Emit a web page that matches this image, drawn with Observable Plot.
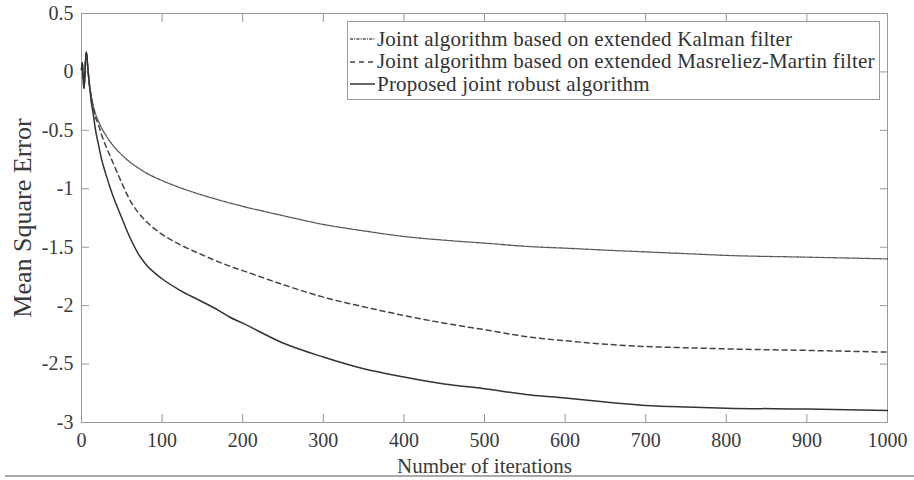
<!DOCTYPE html>
<html>
<head>
<meta charset="utf-8">
<script src="https://cdn.jsdelivr.net/npm/d3@7"></script>
<script src="https://cdn.jsdelivr.net/npm/@observablehq/plot@0.6"></script>
<style>
  html, body { margin: 0; padding: 0; background: #fff; }
  #wrap { position: relative; width: 914px; height: 480px; font-family: "Liberation Serif", "DejaVu Serif", serif; }
  #wrap svg text { font-family: "Liberation Serif", "DejaVu Serif", serif; }
  #legend { position: absolute; left: 347px; top: 21px; width: 533px; height: 79px; border: 1px solid #999; background: #fff; box-sizing: border-box; color: #333; font-size: 21px; letter-spacing: 0.2px; }
  .row { position: absolute; left: 2px; height: 22px; display: flex; align-items: center; white-space: nowrap; }
  .row svg { margin-right: 2px; }
  #bottomline { position: absolute; left: 5px; top: 475px; width: 909px; height: 2px; background: #aaa; }
</style>
</head>
<body>
<div id="wrap"></div>
<script>
// Data
const iterations = [0,1,2,3,4,5,6,8,10,12,15,17,21,25,30,38,50,58,70,79,100,120,148,170,183,200,250,300,350,400,450,500,557,600,650,700,750,800,900,1000];
const kalman   = [0.02,0.08,-0.04,-0.14,-0.06,0.10,0.17,0.02,-0.12,-0.20,-0.30,-0.35,-0.42,-0.48,-0.54,-0.62,-0.71,-0.76,-0.82,-0.86,-0.93,-0.985,-1.05,-1.095,-1.12,-1.15,-1.23,-1.305,-1.36,-1.408,-1.44,-1.465,-1.495,-1.508,-1.525,-1.54,-1.555,-1.57,-1.585,-1.60];
const masreliez = [0.02,0.08,-0.04,-0.14,-0.06,0.10,0.17,0.02,-0.12,-0.21,-0.32,-0.38,-0.45,-0.54,-0.63,-0.76,-0.95,-1.07,-1.20,-1.27,-1.39,-1.47,-1.56,-1.625,-1.66,-1.70,-1.82,-1.927,-2.01,-2.084,-2.15,-2.206,-2.27,-2.30,-2.33,-2.35,-2.36,-2.37,-2.383,-2.398];
const proposed = [0.02,0.08,-0.04,-0.14,-0.06,0.10,0.17,0.02,-0.12,-0.25,-0.38,-0.48,-0.62,-0.75,-0.87,-1.04,-1.25,-1.385,-1.55,-1.64,-1.77,-1.86,-1.96,-2.04,-2.095,-2.15,-2.32,-2.44,-2.54,-2.61,-2.67,-2.711,-2.765,-2.79,-2.825,-2.854,-2.868,-2.877,-2.885,-2.897];
const seriesNames = [
  "Joint algorithm based on extended Kalman filter",
  "Joint algorithm based on extended Masreliez-Martin filter",
  "Proposed joint robust algorithm"
];
const xTicks = [0,100,200,300,400,500,600,700,800,900,1000];
const yTicks = [0.5,0,-0.5,-1,-1.5,-2,-2.5,-3];
const yTickLabels = ["0.5","0","-0.5","-1","-1.5","-2","-2.5","-3"];

const styles = [
  {stroke: "#555", strokeWidth: 1.3, dash: "3,1.2,1,1.2"},
  {stroke: "#444", strokeWidth: 1.5, dash: "5,4"},
  {stroke: "#333", strokeWidth: 1.5, dash: null}
];
const allSeries = [kalman, masreliez, proposed];
const rows = [];
allSeries.forEach((vals, s) => iterations.forEach((x, i) => rows.push({x, y: vals[i], s})));

const font = "Liberation Serif";
const lineMarks = allSeries.map((_, s) => Plot.line(rows.filter(d => d.s === s), {
  x: "x", y: "y", curve: "monotone-x",
  stroke: styles[s].stroke, strokeWidth: styles[s].strokeWidth,
  strokeDasharray: styles[s].dash
}));

const chart = Plot.plot({
  width: 914, height: 480,
  marginLeft: 81, marginRight: 27, marginTop: 13, marginBottom: 58,
  style: {fontFamily: font, fontSize: "20px", color: "#333", background: "transparent"},
  x: {domain: [0, 1000]},
  y: {domain: [-3, 0.5]},
  marks: [
    Plot.frame({stroke: "#999"}),
    Plot.axisX(xTicks, {anchor: "bottom", tickSize: -8, text: null, label: null, stroke: "#999"}),
    Plot.axisX(xTicks, {anchor: "top", tickSize: -8, text: null, label: null, stroke: "#999"}),
    Plot.axisY(yTicks, {anchor: "left", tickSize: -8, text: null, label: null, stroke: "#999"}),
    Plot.axisY(yTicks, {anchor: "right", tickSize: -8, text: null, label: null, stroke: "#999"}),
    Plot.axisX(xTicks, {anchor: "bottom", tickSize: 0, tickPadding: 10, fontSize: 20, fill: "#3a3a3a",
      fontFamily: font, tickFormat: (d) => String(d), label: null}),
    Plot.axisX(xTicks, {anchor: "bottom", tickSize: 0, text: null, fontSize: 21, fill: "#3a3a3a",
      fontFamily: font,
      label: "Number of iterations", labelAnchor: "center", labelArrow: "none", labelOffset: 50}),
    Plot.axisY(yTicks, {anchor: "left", tickSize: 0, tickPadding: 8, fontSize: 20, fill: "#3a3a3a",
      fontFamily: font, tickFormat: (d) => yTickLabels[yTicks.indexOf(d)], label: null}),
    Plot.axisY(yTicks, {anchor: "left", tickSize: 0, text: null, fontSize: 26, fill: "#3a3a3a",
      fontFamily: font,
      label: "Mean Square Error", labelAnchor: "center", labelArrow: "none", labelOffset: 69}),
    ...lineMarks
  ]
});

const wrap = document.getElementById("wrap");
wrap.appendChild(chart);

const legend = document.createElement("div");
legend.id = "legend";
seriesNames.forEach((name, s) => {
  const row = document.createElement("div");
  row.className = "row";
  row.style.top = (6 + s * 22.5) + "px";
  const dash = styles[s].dash ? `stroke-dasharray="${styles[s].dash}"` : "";
  row.innerHTML = `<svg width="25" height="10"><line x1="0" y1="5" x2="25" y2="5" stroke="${styles[s].stroke}" stroke-width="${styles[s].strokeWidth}" ${dash}/></svg><span>${name}</span>`;
  legend.appendChild(row);
});
wrap.appendChild(legend);
const bl = document.createElement("div");
bl.id = "bottomline";
wrap.appendChild(bl);
</script>
</body>
</html>
